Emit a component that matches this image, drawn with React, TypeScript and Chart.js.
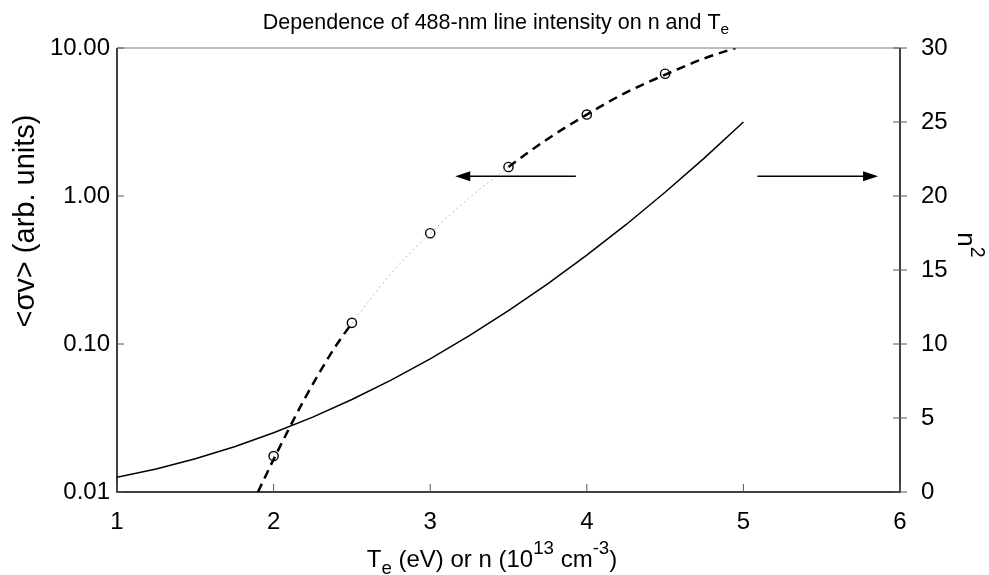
import { useEffect, useRef } from "react";
import { Chart, registerables } from "chart.js";

Chart.register(...registerables);

// ---- data ----
const xTickValues = [1, 2, 3, 4, 5, 6];
const leftTickValues = [0.01, 0.1, 1, 10];
const leftTickLabels = ["0.01", "0.10", "1.00", "10.00"];
const rightTickValues = [0, 5, 10, 15, 20, 25, 30];

// n^2 curve (right axis)
const nValues = [1, 1.25, 1.5, 1.75, 2, 2.25, 2.5, 2.75, 3, 3.25, 3.5, 3.75, 4, 4.25, 4.5, 4.75, 5];
const nSquared = [1, 1.56, 2.25, 3.06, 4, 5.06, 6.25, 7.56, 9, 10.56, 12.25, 14.06, 16, 18.06, 20.25, 22.56, 25];

// <sigma v> fitted curve (left axis, dashed)
const fitTe = [1.9, 2.0, 2.1, 2.2, 2.3, 2.4, 2.5, 2.6, 2.75, 3.0, 3.25, 3.5, 3.75, 4.0, 4.25, 4.5, 4.75, 4.95];
const fitSigmaV = [0.01, 0.0166, 0.027, 0.043, 0.066, 0.098, 0.138, 0.19, 0.3, 0.56, 0.97, 1.57, 2.43, 3.55, 5.0, 6.6, 8.5, 10.0];

// measured points (circles)
const measTe = [2, 2.5, 3, 3.5, 4, 4.5];
const measSigmaV = [0.0175, 0.139, 0.56, 1.57, 3.55, 6.7];

// arrows (data coordinates: x, left-axis value)
const arrowLeft = { from: 3.93, to: 3.16, y: 1.36 };
const arrowRight = { from: 5.09, to: 5.86, y: 1.36 };

const FONT = "'Liberation Sans', Arial, sans-serif";

type Part = { t: string; s?: number; dy?: number };

function drawRich(ctx: CanvasRenderingContext2D, parts: Part[], x: number, y: number, size: number, rot: number) {
  ctx.save();
  ctx.translate(x, y);
  ctx.rotate(rot);
  let total = 0;
  const widths = parts.map((p) => {
    ctx.font = `${size * (p.s ?? 1)}px ${FONT}`;
    const w = ctx.measureText(p.t).width;
    total += w;
    return w;
  });
  let cx = -total / 2;
  ctx.textAlign = "left";
  ctx.textBaseline = "alphabetic";
  ctx.fillStyle = "#000";
  parts.forEach((p, i) => {
    ctx.font = `${size * (p.s ?? 1)}px ${FONT}`;
    ctx.fillText(p.t, cx, (p.dy ?? 0) * size);
    cx += widths[i];
  });
  ctx.restore();
}

const decorPlugin = {
  id: "decor",
  afterDraw(chart: any) {
    const ctx: CanvasRenderingContext2D = chart.ctx;
    const { left, right, top, bottom } = chart.chartArea;
    const x = chart.scales.x;
    const yL = chart.scales.yL;
    const yR = chart.scales.yR;
    ctx.save();
    // frame
    ctx.strokeStyle = "#808080";
    ctx.lineWidth = 1.2;
    ctx.beginPath();
    ctx.moveTo(left, top);
    ctx.lineTo(right, top);
    ctx.stroke();
    ctx.strokeStyle = "#000";
    ctx.lineWidth = 1.5;
    ctx.beginPath();
    ctx.moveTo(left, top);
    ctx.lineTo(left, bottom);
    ctx.lineTo(right, bottom);
    ctx.lineTo(right, top);
    ctx.stroke();
    // ticks
    ctx.lineWidth = 1;
    ctx.strokeStyle = "#555";
    ctx.beginPath();
    xTickValues.forEach((v) => {
      const px = x.getPixelForValue(v);
      ctx.moveTo(px, bottom);
      ctx.lineTo(px, bottom - 8);
    });
    leftTickValues.forEach((v) => {
      const py = yL.getPixelForValue(v);
      ctx.moveTo(left, py);
      ctx.lineTo(left + 7, py);
    });
    rightTickValues.forEach((v) => {
      const py = yR.getPixelForValue(v);
      ctx.moveTo(right - 7, py);
      ctx.lineTo(right + 7, py);
    });
    ctx.stroke();
    // arrows
    const drawArrow = (a: { from: number; to: number; y: number }) => {
      const x0 = x.getPixelForValue(a.from);
      const x1 = x.getPixelForValue(a.to);
      const py = yL.getPixelForValue(a.y);
      const dir = Math.sign(x1 - x0);
      ctx.strokeStyle = "#000";
      ctx.fillStyle = "#000";
      ctx.lineWidth = 1.5;
      ctx.beginPath();
      ctx.moveTo(x0, py);
      ctx.lineTo(x1 - dir * 10, py);
      ctx.stroke();
      ctx.beginPath();
      ctx.moveTo(x1, py);
      ctx.lineTo(x1 - dir * 15, py - 5);
      ctx.lineTo(x1 - dir * 15, py + 5);
      ctx.closePath();
      ctx.fill();
    };
    drawArrow(arrowLeft);
    drawArrow(arrowRight);
    ctx.restore();

    // titles
    drawRich(ctx, [{ t: "Dependence of 488-nm line intensity on n and T" }, { t: "e", s: 0.72, dy: 0.22 }], 496, 29, 21.5, 0);
    drawRich(
      ctx,
      [
        { t: "T" },
        { t: "e", s: 0.78, dy: 0.3 },
        { t: " (eV) or n (10" },
        { t: "13", s: 0.78, dy: -0.55 },
        { t: " cm" },
        { t: "-3", s: 0.78, dy: -0.55 },
        { t: ")" },
      ],
      492,
      567,
      24,
      0
    );
    drawRich(ctx, [{ t: "<σv> (arb. units)" }], 34, 221, 29, -Math.PI / 2);
    drawRich(ctx, [{ t: "n" }, { t: "2", s: 0.75, dy: -0.5 }], 958, 245, 26, Math.PI / 2);
  },
};

export default function App() {
  const ref = useRef<HTMLCanvasElement | null>(null);
  useEffect(() => {
    document.body.style.margin = "0";
    const canvas = ref.current!;
    const chart = new Chart(canvas, {
      type: "line",
      data: {
        datasets: [
          {
            label: "fit",
            data: fitTe.map((t, i) => ({ x: t, y: fitSigmaV[i] })),
            yAxisID: "yL",
            borderColor: "#000",
            borderWidth: 2.5,
            borderDash: [9, 6],
            pointRadius: 0,
            cubicInterpolationMode: "monotone",
            segment: {
              borderColor: (c: any) => (c.p0.parsed.x >= 2.5 && c.p0.parsed.x < 3.5 ? "#bbbbbb" : undefined),
              borderWidth: (c: any) => (c.p0.parsed.x >= 2.5 && c.p0.parsed.x < 3.5 ? 1 : undefined),
              borderDash: (c: any) => (c.p0.parsed.x >= 2.5 && c.p0.parsed.x < 3.5 ? [2, 3] : undefined),
            },
          } as any,
          {
            label: "measured",
            data: measTe.map((t, i) => ({ x: t, y: measSigmaV[i] })),
            yAxisID: "yL",
            showLine: false,
            pointRadius: 4.6,
            pointBorderWidth: 1.4,
            pointBackgroundColor: "#fff",
            pointBorderColor: "#000",
          },
          {
            label: "n2",
            data: nValues.map((n, i) => ({ x: n, y: nSquared[i] })),
            yAxisID: "yR",
            borderColor: "#000",
            borderWidth: 1.5,
            pointRadius: 0,
            tension: 0,
          },
        ],
      },
      options: {
        animation: false,
        responsive: false,
        maintainAspectRatio: false,
        layout: { padding: { top: 48, left: 0, right: 0, bottom: 0 } },
        plugins: { legend: { display: false }, tooltip: { enabled: false }, title: { display: false } },
        scales: {
          x: {
            type: "linear",
            position: "bottom",
            min: 1,
            max: 6,
            afterBuildTicks: (s: any) => {
              s.ticks = xTickValues.map((v) => ({ value: v }));
            },
            ticks: { font: { size: 24, family: FONT }, color: "#000", padding: 16 },
            grid: { display: false, drawTicks: false },
            border: { display: false },
            afterFit: (s: any) => {
              s.height = 575 - 492;
            },
          },
          yL: {
            type: "logarithmic",
            position: "left",
            min: 0.01,
            max: 10,
            afterBuildTicks: (s: any) => {
              s.ticks = leftTickValues.map((v) => ({ value: v }));
            },
            ticks: {
              font: { size: 24, family: FONT },
              color: "#000",
              padding: 7,
              callback: (v: any) => {
                const i = leftTickValues.findIndex((t) => Math.abs(t - v) < 1e-9);
                return i >= 0 ? leftTickLabels[i] : "";
              },
            },
            grid: { display: false, drawTicks: false },
            border: { display: false },
            afterFit: (s: any) => {
              s.width = 117;
            },
          },
          yR: {
            type: "linear",
            position: "right",
            min: 0,
            max: 30,
            afterBuildTicks: (s: any) => {
              s.ticks = rightTickValues.map((v) => ({ value: v }));
            },
            ticks: { font: { size: 24, family: FONT }, color: "#000", padding: 21 },
            grid: { display: false, drawTicks: false },
            border: { display: false },
            afterFit: (s: any) => {
              s.width = 989 - 900;
            },
          },
        },
      },
      plugins: [decorPlugin],
    });
    return () => chart.destroy();
  }, []);
  return (
    <div style={{ position: "absolute", left: 0, top: 0, width: 989, height: 575, background: "#fff" }}>
      <canvas ref={ref} width={989} height={575} style={{ width: 989, height: 575 }} />
    </div>
  );
}
